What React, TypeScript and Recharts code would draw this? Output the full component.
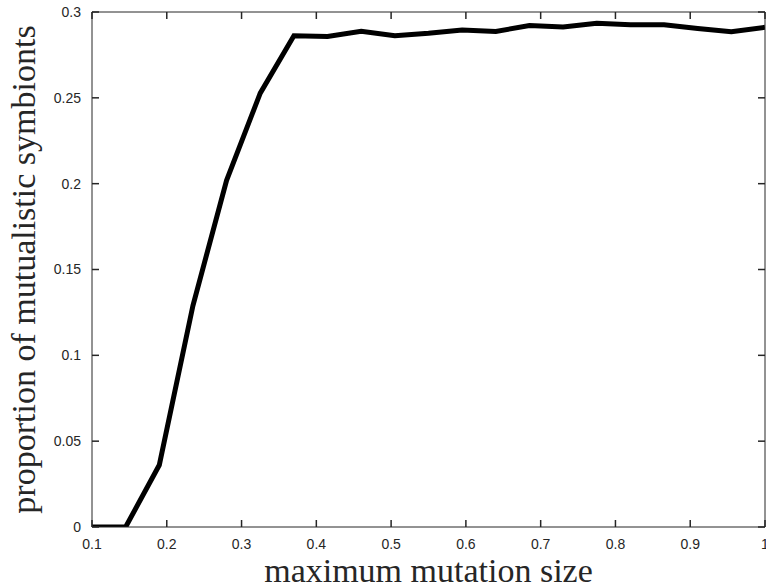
import { LineChart, Line, XAxis, YAxis } from "recharts";

// maximum mutation size (x) and proportion of mutualistic symbionts (y)
const mutationSize = [
  0.1, 0.145, 0.19, 0.235, 0.28, 0.325, 0.37, 0.415, 0.46, 0.505, 0.55,
  0.595, 0.64, 0.685, 0.73, 0.775, 0.82, 0.865, 0.91, 0.955, 1.0,
];
const mutualisticShare = [
  0, 0, 0.0361, 0.129, 0.202, 0.2527, 0.2862, 0.2858, 0.2888, 0.2862, 0.2876,
  0.2895, 0.2887, 0.2921, 0.2913, 0.2934, 0.2926, 0.2926, 0.2904, 0.2885,
  0.2911,
];
const xTicks = [0.1, 0.2, 0.3, 0.4, 0.5, 0.6, 0.7, 0.8, 0.9, 1];
const yTicks = [0, 0.05, 0.1, 0.15, 0.2, 0.25, 0.3];

const data = mutationSize.map((x, i) => ({ x, y: mutualisticShare[i] }));

const CHART_W = 766;
const CHART_H = 588;
const X_AXIS_H = 61;
const Y_AXIS_W = 92;
const PLOT_BOTTOM = CHART_H - X_AXIS_H;
const PLOT_RIGHT = CHART_W - 1;
const Y_GAP = 11;
const TICK_LEN = 7;

const axisColor = "#262626";
const tickStroke = { stroke: axisColor, strokeWidth: 1.5 };
const tickFont = { fontSize: 14, fill: axisColor, fontFamily: "Liberation Sans, Arial, sans-serif" };
const labelFont = { fontSize: 34, fill: axisColor, fontFamily: "Liberation Serif, serif" };

// inward ticks on top + bottom edges (matlab box)
const TopTick = (props: any) => {
  const { x, y } = props;
  return (
    <g>
      <line x1={x} x2={x} y1={y} y2={y + TICK_LEN} {...tickStroke} />
      <line x1={x} x2={x} y1={PLOT_BOTTOM} y2={PLOT_BOTTOM - TICK_LEN} {...tickStroke} />
    </g>
  );
};

// label + inward ticks on left and right edges
const LeftTick = (props: any) => {
  const { x, y, payload } = props;
  const edge = x + Y_GAP;
  return (
    <g>
      <line x1={edge} x2={edge + TICK_LEN} y1={y} y2={y} {...tickStroke} />
      <line x1={PLOT_RIGHT} x2={PLOT_RIGHT - TICK_LEN} y1={y} y2={y} {...tickStroke} />
      <text x={x} y={y} dy="0.355em" textAnchor="end" style={tickFont}>
        {String(payload.value)}
      </text>
    </g>
  );
};

export default function App() {
  return (
    <div style={{ position: "absolute", left: 0, top: 0, background: "#fff" }}>
      <LineChart
        width={CHART_W}
        height={CHART_H}
        data={data}
        margin={{ top: 11, right: 0, bottom: 0, left: 0 }}
      >
        <XAxis
          dataKey="x"
          type="number"
          domain={[0.1, 1]}
          ticks={xTicks}
          allowDataOverflow
          height={X_AXIS_H}
          stroke={axisColor}
          tickLine={false}
          tickSize={0}
          tickMargin={12}
          tick={tickFont}
          tickFormatter={(v) => String(v)}
          interval={0}
          label={{
            content: () => (
              <text x={428.5} y={582} textAnchor="middle" style={labelFont}>
                maximum mutation size
              </text>
            ),
          }}
        />
        <XAxis
          xAxisId="top"
          dataKey="x"
          type="number"
          orientation="top"
          domain={[0.1, 1]}
          ticks={xTicks}
          height={1}
          stroke={axisColor}
          tickLine={false}
          tickSize={0}
          tickMargin={0}
          tick={<TopTick />}
          interval={0}
        />
        <YAxis
          type="number"
          domain={[0, 0.3]}
          ticks={yTicks}
          allowDataOverflow
          width={Y_AXIS_W}
          stroke={axisColor}
          tickLine={false}
          tickSize={0}
          tickMargin={Y_GAP}
          tick={<LeftTick />}
          interval={0}
          label={{
            content: () => (
              <text
                x={35}
                y={269.5}
                transform="rotate(-90, 35, 269.5)"
                textAnchor="middle"
                style={labelFont}
              >
                proportion of mutualistic symbionts
              </text>
            ),
          }}
        />
        <YAxis
          yAxisId="right"
          orientation="right"
          type="number"
          domain={[0, 0.3]}
          ticks={yTicks}
          width={1}
          stroke={axisColor}
          tickLine={false}
          tick={false}
        />
        <Line
          type="linear"
          dataKey="y"
          stroke="#000"
          strokeWidth={5}
          dot={false}
          isAnimationActive={false}
        />
      </LineChart>
    </div>
  );
}
